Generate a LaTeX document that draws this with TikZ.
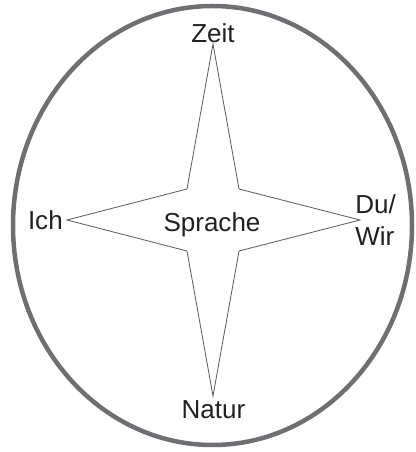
\documentclass[tikz,border=0pt]{standalone}
\usepackage{fontspec}
\setmainfont{Liberation Sans}
\usepackage{tikz}
\usetikzlibrary{positioning, calc}
\usepackage{xcolor}
\definecolor{rimgray}{RGB}{110,111,114}
\definecolor{stargray}{RGB}{95,95,98}
\definecolor{txtblack}{RGB}{35,31,32}

\begin{document}
\begin{tikzpicture}[x=0.025cm, y=0.025cm,
    lbl/.style={font=\fontsize{18.5pt}{22.8pt}\selectfont, text=txtblack, inner sep=0pt}]
        \useasboundingbox (-213,220) rectangle (202,-232);
        % outer ring
        \draw[draw=rimgray, line width=3.2pt]
          (-0.5,-5.5) ellipse (199.5 and 219.5);
        % four-pointed star
        \draw[draw=stargray, line width=0.6pt, line join=miter]
          (0,176) -- (26,31) -- (147,0) -- (26,-31) -- (0,-176)
          -- (-26,-31) -- (-146,0) -- (-26,31) -- cycle;
        % labels at the tips
        \node[lbl, anchor=base] (zeit) at (0,177) {Zeit};
        \node[lbl, anchor=base] (natur) at (0.5,-198) {Natur};
        \node[lbl, anchor=base east] (ich) at (-150,-9.3) {Ich};
        \node[lbl, anchor=west, align=left] (duwir) at (142,-0.5) {Du/\\Wir};
        \node[lbl, anchor=base] (sprache) at (-1,-11.7) {Sprache};
      \end{tikzpicture}
\end{document}
